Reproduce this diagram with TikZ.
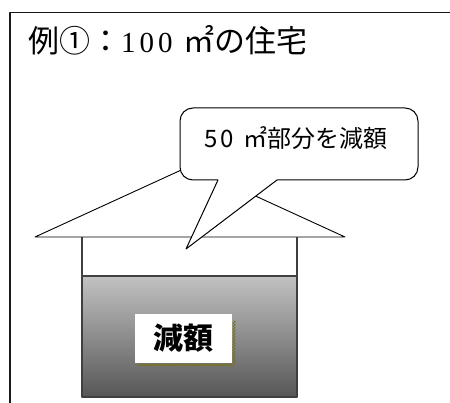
\documentclass[tikz,border=0pt]{standalone}
\usepackage{fontspec}
\setmainfont{Liberation Serif}
\newfontfamily\jp{Noto Sans CJK JP}
\usetikzlibrary{decorations.pathmorphing}

\begin{document}
\begin{tikzpicture}[x=1pt,y=-1pt,line join=round,
  frame/.style={draw=black!90,line width=1.6pt},
  roof/.style={draw=black,line width=0.9pt,fill=white},
  wall/.style={draw=black!75,line width=1.3pt},
  floor/.style={draw=black!75,line width=2pt,top color=black!24,bottom color=black!66},
  balloon/.style={draw=black,line width=1pt,fill=white},
  tag/.style={fill=white,inner sep=0pt,minimum width=97pt,minimum height=49pt,font=\jp\bfseries\fontsize{30}{30}\selectfont},
  squiggle/.style={draw=olive!80!black,line width=0.8pt,decorate,decoration={zigzag,segment length=3pt,amplitude=1.1pt}}]

                \useasboundingbox (0,0) rectangle (450,403);

                % frame, open at right and bottom
                \draw[frame] (10,403) -- (10,12.5) -- (450,12.5);
                \node[anchor=base west,inner sep=0pt] (title) at (28,53)
                    {\jp\fontsize{31}{31}\selectfont 例①：{\rmfamily\fontsize{29}{29}\selectfont 1\kern4pt0\kern4pt0}\hspace{11pt}㎡の住宅};

                % house
                \draw[roof] (35,237) -- (190,166) -- (345,237) -- cycle;
                \draw[wall] (82,237) -- (82,276) (297,237) -- (297,276);
                \draw[floor] (82,276) rectangle (297,397);

                % label on the lower floor
                \draw[squiggle] (234,321) -- (234,365) -- (138,365);
                \node[tag] (label) at (183.5,338.5) {減額};

                % speech balloon
                \draw[balloon] (218,180) -- (186,249) -- (277,180)
                    [rounded corners=13pt] -- (418,180) -- (418,108) -- (180,108) -- (180,180) [sharp corners] -- cycle;
                \node[font=\jp\fontsize{24}{24}\selectfont] (note) at (296,138) {5\kern3pt0\hspace{10pt}㎡部分を減額};

\end{tikzpicture}
\end{document}
